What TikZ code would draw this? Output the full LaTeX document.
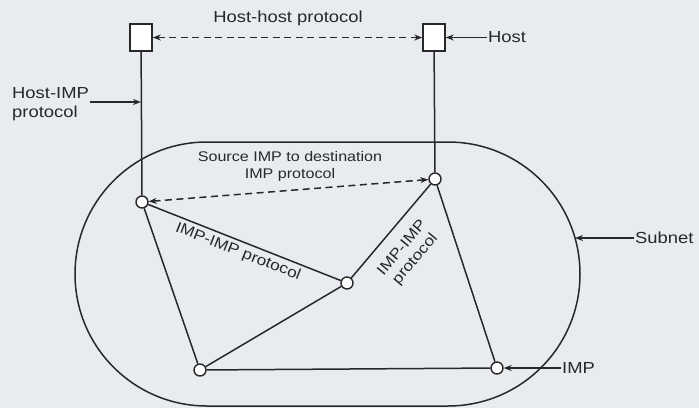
\documentclass[tikz,border=0pt]{standalone}
\usepackage{fontspec}
\setmainfont[FakeStretch=1.15]{Liberation Sans}
\usetikzlibrary{arrows.meta}
\definecolor{bg}{RGB}{232,235,240}
\definecolor{ink}{RGB}{40,40,40}
\begin{document}
\begin{tikzpicture}[x=1pt,y=-1pt,
  host/.style={draw=ink, fill=white, minimum width=22pt, minimum height=27pt, inner sep=0pt, line width=1.5pt},
  imp/.style={circle, draw=ink, fill=white, minimum size=12pt, inner sep=0pt, line width=1.4pt},
  link/.style={draw=ink, line width=1.5pt},
  dashlink/.style={link, dash pattern=on 7pt off 4.5pt},
  tip/.style={-{Stealth[length=8pt,width=6pt]}},
  twotip/.style={{Stealth[length=8pt,width=6pt]}-{Stealth[length=8pt,width=6pt]}},
  lbl/.style={font=\fontsize{16}{19.5}\selectfont, text=ink, inner sep=1pt},
  small/.style={font=\fontsize{14}{17}\selectfont, text=ink, inner sep=1pt},
  slant/.style={font=\fontsize{15}{17}\selectfont, text=ink, inner sep=1pt}]
\fill[bg] (0,0) rectangle (699,408);
\useasboundingbox (0,0) rectangle (699,408);

% subnet outline
\draw[link] (207,142) -- (448,142) arc[start angle=-90,end angle=90,radius=132]
  -- (207,406) arc[start angle=90,end angle=270,radius=132] -- cycle;

% hosts and IMPs
\node[host] (hL) at (141,37.5) {};
\node[host] (hR) at (434,37.5) {};
\node[imp] (i1) at (142,202) {};
\node[imp] (i2) at (435,179) {};
\node[imp] (i3) at (347,283) {};
\node[imp] (i4) at (200,370) {};
\node[imp] (i5) at (497,368) {};

% links
\draw[link] (hL) -- (i1);
\draw[link] (hR) -- (i2);
\draw[link] (i1) -- (i4);
\draw[link] (i1) -- (i3);
\draw[link] (i3) -- (i4);
\draw[link] (i3) -- (i2);
\draw[link] (i2) -- (i5);
\draw[link] (i4) -- (i5);

% protocols
\draw[dashlink, twotip] (hL) -- (hR);
\draw[dashlink, twotip] (i1) -- (i2);

% labels
\node[lbl] (thh) at (288,18) {Host-host protocol};
\node[lbl, anchor=west] (thost) at (487,37.5) {Host};
\draw[link, tip] (thost.west) -- (hR.east);

\node[lbl, anchor=west, align=left] (thi) at (11,104) {Host-IMP\\protocol};
\coordinate (hia) at (90,102);
\draw[link, tip] (hia) -- (hia -| hL);

\node[lbl, anchor=west] (tsub) at (634,238) {Subnet};
\coordinate (sb) at (575,238);
\draw[link, tip] (tsub.west) -- (sb);

\node[lbl, anchor=west] (timp) at (561,368) {IMP};
\draw[link, tip] (timp.west) -- (i5.east);

\node[small, align=center] (tsrc) at (290,166) {Source IMP to destination\\IMP protocol};
\node[slant, rotate=-21.5] (tii1) at (238,252) {IMP-IMP protocol};
\node[slant, rotate=50, align=center] (tii2) at (409,254) {IMP-IMP\\protocol};
\end{tikzpicture}
\end{document}
